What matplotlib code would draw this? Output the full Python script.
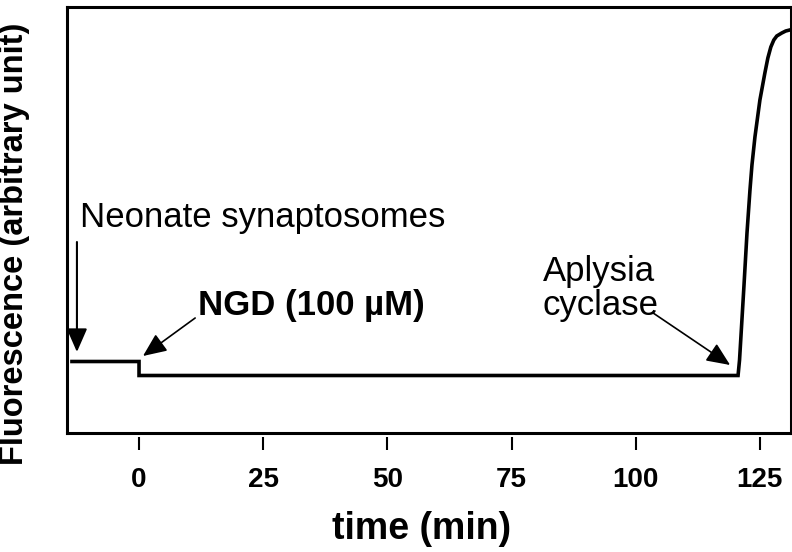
import matplotlib
matplotlib.use("Agg")
import matplotlib.pyplot as plt

# trace (time in min, fluorescence in arbitrary units)
time_min = [-13.5, 0.0, 0.0, 120.6, 120.9, 121.2, 121.8, 122.4, 123.0, 123.4,
            124.0, 125.0, 126.0, 126.6, 127.2, 127.8, 128.4, 129.4, 130.2, 131.0]
fluor = [71.5, 71.5, 57.5, 57.5, 73, 98, 148, 200, 243, 268,
         296, 333, 360, 375, 386, 393, 397, 400, 402, 403]

xticks = [0, 25, 50, 75, 100, 125]

narrow = ['Liberation Sans Narrow', 'Liberation Sans', 'DejaVu Sans']
arial = ['Liberation Sans', 'DejaVu Sans']

fig = plt.figure(figsize=(7.92, 5.52), dpi=100)
ax = fig.add_axes([67/792, 1 - 433/552, (790.7 - 67)/792, (433 - 7)/552])

ax.plot(time_min, fluor, color='black', lw=2.6, solid_joinstyle='miter')
ax.set_xlim(-14.5, 131.2)
ax.set_ylim(0, 426)
ax.set_yticks([])
ax.tick_params(bottom=False, labelbottom=False)
for s in ax.spines.values():
    s.set_linewidth(2.2)

# ticks sit a little below the frame
sec = ax.secondary_xaxis(-0.009)
sec.spines['bottom'].set_visible(False)
sec.set_xticks(xticks)
sec.tick_params(length=9.5, width=1.5, pad=12)
for lab in sec.get_xticklabels():
    lab.set_family(narrow)
    lab.set_fontweight('bold')
    lab.set_fontsize(20)

arrow = dict(arrowstyle='-|>,head_length=0.8,head_width=0.35', mutation_scale=18,
             color='black', shrinkA=0, shrinkB=0)

ax.text(-11.9, 206, 'Neonate synaptosomes', family=arial, fontsize=25, va='baseline')
ax.annotate('', xy=(-12.5, 81), xytext=(-12.5, 191), arrowprops=dict(arrow, lw=1.5))

ax.text(11.9, 118, 'NGD (100 µM)', family=arial, fontsize=25, fontweight='bold',
        va='baseline')
ax.annotate('', xy=(0.8, 77), xytext=(11.3, 115), arrowprops=dict(arrow, lw=1.2))

# baseline alignment uses the last line here
ax.text(81.3, 118, 'Aplysia\ncyclase', family=arial, fontsize=25, va='baseline',
        linespacing=1.05)
ax.annotate('', xy=(119.0, 68), xytext=(103.5, 120), arrowprops=dict(arrow, lw=1.2))

fig.text(422/792, 1 - 529/552, 'time (min)', family=narrow, fontsize=27,
         fontweight='bold', ha='center', va='center')
fig.text(15/792, 1 - 244/552, 'Fluorescence (arbitrary unit)', family=arial,
         fontsize=23.5, fontweight='bold', rotation=90, ha='center', va='center')

fig.savefig('out.png', dpi=100)
